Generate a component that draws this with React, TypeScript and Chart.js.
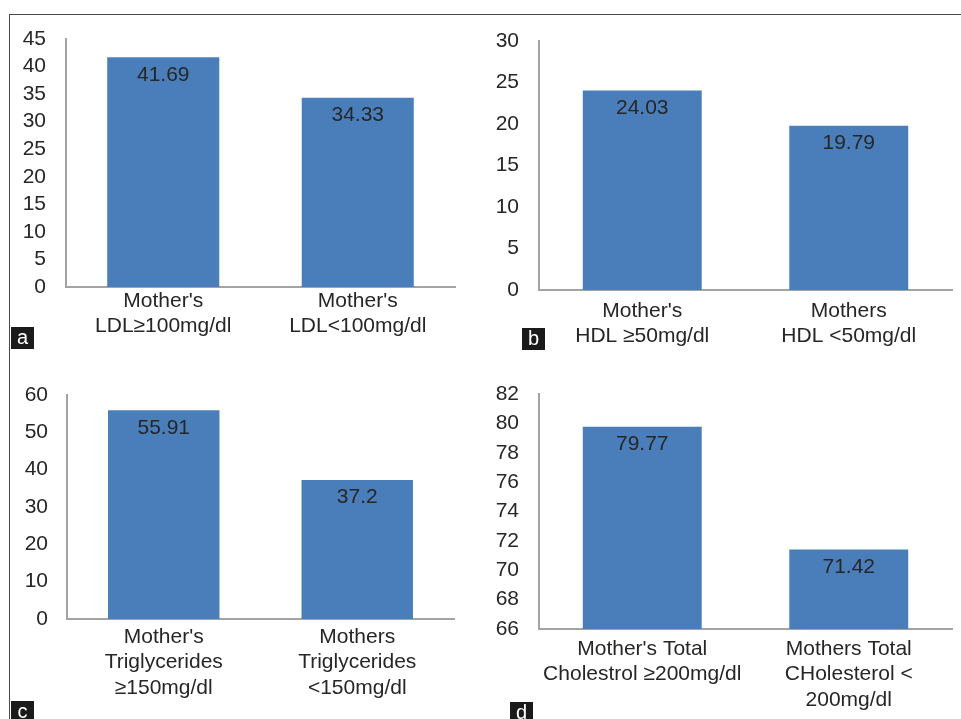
import React, { useEffect, useRef } from "react";
import { Chart, registerables } from "chart.js";
Chart.register(...registerables);

// ---- Data ----
const labelsA = [["Mother's", "LDL≥100mg/dl"], ["Mother's", "LDL<100mg/dl"]];
const valuesA = [41.69, 34.33];
const ticksA = [0, 45, 5];

const labelsB = [["Mother's", "HDL ≥50mg/dl"], ["Mothers", "HDL <50mg/dl"]];
const valuesB = [24.03, 19.79];
const ticksB = [0, 30, 5];

const labelsC = [["Mother's", "Triglycerides", "≥150mg/dl"], ["Mothers", "Triglycerides", "<150mg/dl"]];
const valuesC = [55.91, 37.2];
const ticksC = [0, 60, 10];

const labelsD = [["Mother's Total", "Cholestrol ≥200mg/dl"], ["Mothers Total", "CHolesterol <", "200mg/dl"]];
const valuesD = [79.77, 71.42];
const ticksD = [66, 82, 2];

const FONT = "'Liberation Sans', Arial, sans-serif";
const TEXT = "#262626";
const BAR = "#4a7ebb";
const AXIS = "#a3a3a3";

const valueLabelPlugin = {
  id: "valueLabels",
  afterDatasetsDraw(chart: any) {
    const ctx = chart.ctx;
    ctx.save();
    ctx.font = `21px ${FONT}`;
    ctx.fillStyle = TEXT;
    ctx.textAlign = "center";
    ctx.textBaseline = "middle";
    chart.data.datasets.forEach((ds: any, di: number) => {
      const meta = chart.getDatasetMeta(di);
      meta.data.forEach((el: any, i: number) => {
        ctx.fillText(String(ds.data[i]), el.x, el.y + 17.5);
      });
    });
    ctx.restore();
  },
};

type PanelProps = {
  labels: string[][];
  values: number[];
  ticks: number[];
  left: number;
  top: number;
  width: number;
  height: number;
  areaLeft: number;
  areaTop: number;
  areaRight: number;
  areaBottom: number;
  tickPad: number;
  labelPad: number;
};

function Panel(p: PanelProps) {
  const ref = useRef<HTMLCanvasElement>(null);
  useEffect(() => {
    if (!ref.current) return;
    const yWidth = p.areaLeft - p.left;
    const xHeight = p.top + p.height - p.areaBottom;
    const chart = new Chart(ref.current, {
      type: "bar",
      data: {
        labels: p.labels,
        datasets: [
          {
            data: p.values,
            backgroundColor: BAR,
            borderWidth: 0,
            barPercentage: 0.576,
            categoryPercentage: 1,
          },
        ],
      },
      options: {
        responsive: false,
        animation: false,
        devicePixelRatio: 1,
        layout: {
          padding: {
            left: 0,
            top: p.areaTop - p.top,
            right: p.left + p.width - p.areaRight,
            bottom: 0,
          },
        },
        plugins: {
          legend: { display: false },
          tooltip: { enabled: false },
          title: { display: false },
        },
        scales: {
          x: {
            grid: { display: false, drawTicks: false },
            border: { display: true, color: AXIS, width: 2 },
            ticks: {
              color: TEXT,
              font: { family: FONT, size: 21, lineHeight: 1.22 },
              padding: p.labelPad,
              maxRotation: 0,
              minRotation: 0,
              autoSkip: false,
            },
            afterFit: (s: any) => {
              s.height = xHeight;
              s.paddingLeft = 0;
              s.paddingRight = 0;
            },
          },
          y: {
            min: p.ticks[0],
            max: p.ticks[1],
            grid: { display: false, drawTicks: false },
            border: { display: true, color: AXIS, width: 2 },
            ticks: {
              stepSize: p.ticks[2],
              autoSkip: false,
              color: TEXT,
              font: { family: FONT, size: 21 },
              padding: p.tickPad,
            },
            afterFit: (s: any) => {
              s.width = yWidth;
              s.paddingTop = 0;
              s.paddingBottom = 0;
            },
          },
        },
      },
      plugins: [valueLabelPlugin],
    });
    return () => chart.destroy();
  }, []);
  return (
    <canvas
      ref={ref}
      width={p.width}
      height={p.height}
      style={{ position: "absolute", left: p.left, top: p.top, width: p.width, height: p.height }}
    />
  );
}

function Tag({ letter, left, top }: { letter: string; left: number; top: number }) {
  return (
    <div
      style={{
        position: "absolute",
        left,
        top,
        width: 23,
        height: 22,
        background: "#1a1a1a",
        color: "#fff",
        fontFamily: FONT,
        fontSize: 20,
        lineHeight: "20px",
        textAlign: "center",
        zIndex: 5,
      }}
    >
      {letter}
    </div>
  );
}

export default function App() {
  return (
    <div
      style={{
        position: "fixed",
        left: 0,
        top: 0,
        width: 961,
        height: 719,
        background: "#fff",
        overflow: "hidden",
      }}
    >
      <div
        style={{
          position: "absolute",
          left: 9,
          top: 14,
          width: 960,
          height: 720,
          borderTop: "1.5px solid #4a4a4a",
          borderLeft: "1.5px solid #4a4a4a",
        }}
      />
      <Panel
        labels={labelsA}
        values={valuesA}
        ticks={ticksA}
        left={11}
        top={16}
        width={455}
        height={340}
        areaLeft={66}
        areaTop={39}
        areaRight={455}
        areaBottom={287}
        tickPad={20}
        labelPad={1}
      />
      <Panel
        labels={labelsB}
        values={valuesB}
        ticks={ticksB}
        left={480}
        top={16}
        width={478}
        height={340}
        areaLeft={539}
        areaTop={41}
        areaRight={952}
        areaBottom={290}
        tickPad={20}
        labelPad={8}
      />
      <Panel
        labels={labelsC}
        values={valuesC}
        ticks={ticksC}
        left={11}
        top={370}
        width={455}
        height={349}
        areaLeft={67}
        areaTop={395}
        areaRight={454}
        areaBottom={619}
        tickPad={19}
        labelPad={5}
      />
      <Panel
        labels={labelsD}
        values={valuesD}
        ticks={ticksD}
        left={480}
        top={370}
        width={478}
        height={349}
        areaLeft={539}
        areaTop={394}
        areaRight={952}
        areaBottom={629}
        tickPad={20}
        labelPad={7}
      />
      <Tag letter="a" left={11} top={327} />
      <Tag letter="b" left={522} top={328} />
      <Tag letter="c" left={11} top={701} />
      <Tag letter="d" left={510} top={702} />
    </div>
  );
}
